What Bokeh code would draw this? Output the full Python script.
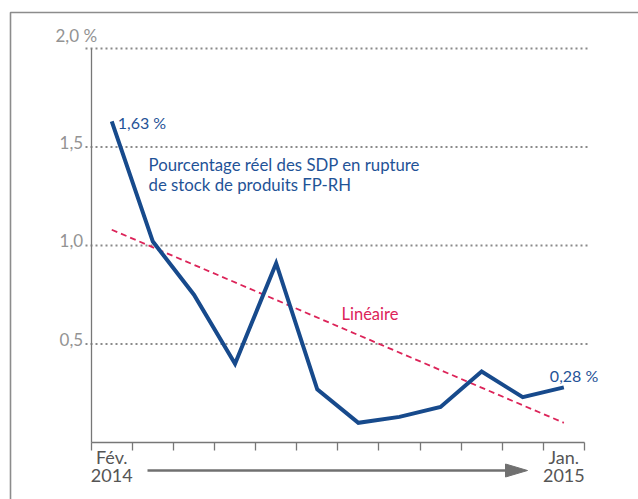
from bokeh.plotting import figure
from bokeh.models import Range1d, LinearAxis, FixedTicker
from bokeh.core.properties import value
from bokeh.embed import file_html
from bokeh.resources import INLINE

# ---- data -------------------------------------------------------------
months = ["Fév. 2014", "Mars", "Avr.", "Mai", "Juin", "Juil.", "Août",
          "Sept.", "Oct.", "Nov.", "Déc.", "Jan. 2015"]
rupture_pct = [1.63, 1.02, 0.75, 0.40, 0.91, 0.27, 0.10, 0.13, 0.18, 0.36, 0.23, 0.28]
trend_pct = [1.08, 0.10]          # linear trend, first and last month
y_ticks = [0.5, 1.0, 1.5, 2.0]
y_tick_labels = ["0,5", "1,0", "1,5", "2,0   %"]
end_month_names = ["Fév.", "Jan."]
end_month_years = ["2014", "2015"]
series_label = ["Pourcentage réel des SDP en rupture", "de stock de produits FP-RH"]
trend_label = "Linéaire"

# ---- layout (pixels) --------------------------------------------------
W, H = 638, 499
X0_PX, DX_PX = 90.7, 41.1   # pixel of the first month boundary, pixels per month
Y0_PX, DY_PX = 442.0, 197.0  # pixel of 0 %, pixels per 1 %


def xd(px):
    return (px - X0_PX) / DX_PX


def yd(py):
    return (Y0_PX - py) / DY_PX


FONT = value("Lato")
BLUE = "#174a8c"
BLUE_TXT = "#1f5397"
RED = "#dc2459"
AXIS = "#777777"
GRID = "#8a8a8a"
TICK_TXT = "#939393"

p = figure(width=W, height=H,
           x_range=Range1d(xd(0), xd(W)), y_range=Range1d(yd(H), yd(0)),
           x_axis_type=None, y_axis_type=None,
           min_border=0, outline_line_color=None,
           toolbar_location=None, output_backend="svg",
           background_fill_color="white", border_fill_color="white")
p.grid.visible = False

# outer frame (left and top edges)
p.line([xd(10), xd(10), xd(W + 20)], [yd(H + 20), yd(12), yd(12)],
       line_color="#8c8c8c", line_width=1.6)

# dotted horizontal guides
p.segment(x0=[xd(85)] * len(y_ticks), x1=[xd(587)] * len(y_ticks),
          y0=y_ticks, y1=y_ticks,
          line_color=GRID, line_width=1.8, line_dash="2 3")

# x axis: one tick at every month boundary
n = len(months)
xaxis = LinearAxis(fixed_location=0, bounds=(0, n),
                   ticker=FixedTicker(ticks=[], minor_ticks=list(range(n + 1))),
                   major_tick_in=0, major_tick_out=0,
                   minor_tick_in=0, minor_tick_out=8,
                   minor_tick_line_color=AXIS, minor_tick_line_width=1.3,
                   axis_line_color=AXIS, axis_line_width=1.3)
p.add_layout(xaxis, "below")

# first / last month names under their month
end_x = [0.5, n - 0.5]
p.text(x=end_x, y=[0, 0], text=end_month_names, y_offset=14,
       text_align="center", text_baseline="middle",
       text_font=FONT, text_font_size="18px", text_color="#555555")
p.text(x=end_x, y=[0, 0], text=end_month_years, y_offset=33,
       text_align="center", text_baseline="middle",
       text_font=FONT, text_font_size="18px", text_color="#555555")

# y axis line
yaxis = LinearAxis(fixed_location=0, bounds=(0, max(y_ticks)),
                   ticker=FixedTicker(ticks=[]),
                   major_tick_in=0, major_tick_out=0, minor_tick_out=0, minor_tick_in=0,
                   axis_line_color=AXIS, axis_line_width=1.3)
p.add_layout(yaxis, "left")

# y tick labels, sitting on their guide lines (the top one above it)
p.text(x=[0] * 3, y=y_ticks[:3], text=y_tick_labels[:3],
       x_offset=-8, y_offset=-5, text_align="right", text_baseline="middle",
       text_font=FONT, text_font_size="17px", text_color=TICK_TXT)
p.text(x=[xd(55)], y=[y_ticks[3]], text=[y_tick_labels[3]], y_offset=-13,
       text_baseline="middle",
       text_font=FONT, text_font_size="17px", text_color=TICK_TXT)

# trend and series
xs = [i + 0.5 for i in range(n)]
p.line([xs[0], xs[-1]], trend_pct, line_color=RED, line_width=1.8, line_dash="6 4")
p.line(xs, rupture_pct, line_color=BLUE, line_width=4, line_join="miter")


def pct(v):
    return f"{v:.2f}".replace(".", ",") + " %"


p.text(x=[xs[0]], y=[rupture_pct[0]], text=[pct(rupture_pct[0])],
       x_offset=6, y_offset=1, text_baseline="middle",
       text_font=FONT, text_font_size="16px", text_color=BLUE_TXT)
p.text(x=[xs[-1]], y=[rupture_pct[-1]], text=[pct(rupture_pct[-1])],
       x_offset=-14, y_offset=-12, text_baseline="middle",
       text_font=FONT, text_font_size="16px", text_color=BLUE_TXT)

p.text(x=[xd(148)] * 2, y=[yd(164), yd(184)], text=series_label,
       text_baseline="middle",
       text_font=FONT, text_font_size="16.8px", text_color=BLUE_TXT)
p.text(x=[xd(341)], y=[yd(313.5)], text=[trend_label], text_baseline="middle",
       text_font=FONT, text_font_size="16.5px", text_color=RED)

# time arrow
p.line([xd(147), xd(508)], [yd(470), yd(470)], line_color="#707070", line_width=2.3)
p.patch([xd(527), xd(505), xd(505)], [yd(470), yd(463.5), yd(476.5)],
        fill_color="#707070", line_color="#707070", line_width=1)

open("out.html", "w").write(file_html(p, INLINE))
